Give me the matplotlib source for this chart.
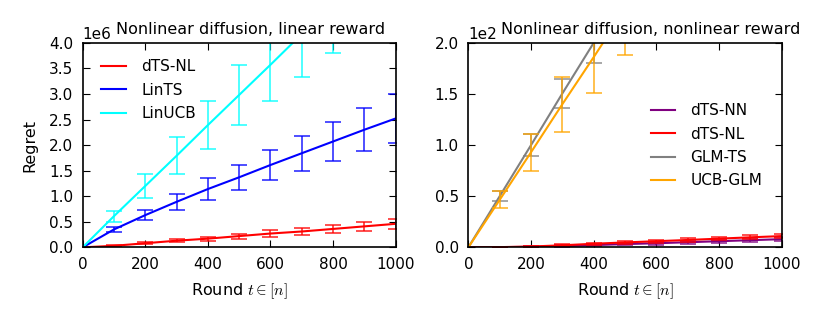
import numpy as np
import matplotlib
matplotlib.use("Agg")
import matplotlib.pyplot as plt

# rounds where the regret was recorded
rounds = [0, 100, 200, 300, 400, 500, 600, 700, 800, 900, 1000]

# left panel: nonlinear diffusion, linear reward (regret in units of 1e6)
left_labels = ["dTS-NL", "LinTS", "LinUCB"]
left_colors = ["red", "blue", "cyan"]
dts_nl_lin = [0, 0.03, 0.08, 0.13, 0.17, 0.22, 0.27, 0.31, 0.36, 0.41, 0.46]
dts_nl_lin_err = [0, 0.01, 0.02, 0.03, 0.04, 0.05, 0.06, 0.07, 0.08, 0.09, 0.10]
lints = [0, 0.35, 0.63, 0.89, 1.14, 1.37, 1.61, 1.84, 2.07, 2.30, 2.52]
lints_err = [0, 0.05, 0.10, 0.155, 0.21, 0.245, 0.29, 0.34, 0.38, 0.42, 0.47]
linucb = [0, 0.61, 1.20, 1.79, 2.39, 2.98, 3.57, 4.17, 4.76, 5.35, 5.95]
linucb_err = [0, 0.11, 0.23, 0.36, 0.47, 0.59, 0.71, 0.84, 0.95, 1.07, 1.19]

# right panel: nonlinear diffusion, nonlinear reward (regret in units of 1e2)
right_labels = ["dTS-NN", "dTS-NL", "GLM-TS", "UCB-GLM"]
right_colors = ["purple", "red", "gray", "orange"]
dts_nn = [0, 0.002, 0.005, 0.012, 0.022, 0.032, 0.04, 0.05, 0.06, 0.07, 0.08]
dts_nn_err = [0, 0.004, 0.006, 0.008, 0.01, 0.012, 0.014, 0.015, 0.016, 0.018, 0.02]
dts_nl = [0, 0.002, 0.008, 0.02, 0.035, 0.048, 0.06, 0.072, 0.085, 0.098, 0.11]
dts_nl_err = [0, 0.004, 0.006, 0.008, 0.01, 0.012, 0.014, 0.016, 0.018, 0.02, 0.022]
glm_ts = [0, 0.50, 1.00, 1.505, 2.00, 2.50, 3.00, 3.50, 4.00, 4.50, 5.00]
glm_ts_err = [0, 0.05, 0.105, 0.145, 0.20, 0.25, 0.30, 0.35, 0.40, 0.45, 0.50]
ucb_glm = [0, 0.465, 0.93, 1.40, 1.86, 2.33, 2.79, 3.26, 3.72, 4.19, 4.65]
ucb_glm_err = [0, 0.085, 0.18, 0.27, 0.355, 0.45, 0.53, 0.62, 0.71, 0.80, 0.88]

plt.rcParams["font.family"] = "DejaVu Sans"
plt.rcParams["font.size"] = 11
plt.rcParams["mathtext.fontset"] = "cm"
plt.rcParams["xtick.direction"] = "in"
plt.rcParams["ytick.direction"] = "in"
plt.rcParams["xtick.top"] = True
plt.rcParams["ytick.right"] = True
plt.rcParams["xtick.major.size"] = 5
plt.rcParams["ytick.major.size"] = 5
plt.rcParams["xtick.major.pad"] = 7
plt.rcParams["ytick.major.pad"] = 7
plt.rcParams["axes.linewidth"] = 1.2


def draw(ax, scale, series, errs, labels, colors):
  x = np.array(rounds)
  for y, e, lab, c in zip(series, errs, labels, colors):
    y = np.array(y) * scale
    e = np.array(e) * scale
    ax.plot(x, y, color=c, lw=1.5, label=lab)
    ax.errorbar(x[1:], y[1:], yerr=e[1:], fmt="none", ecolor=c,
                elinewidth=1.3, capsize=6, capthick=1.3, alpha=0.75)
  ax.set_xlim(0, 1000)
  ax.set_xticks(range(0, 1001, 200))
  ax.set_xlabel(r"Round $t \in [n]$", fontsize=11.5, labelpad=7)
  ax.ticklabel_format(axis="y", style="sci", scilimits=(0, 0))


fig = plt.figure(figsize=(8.3, 3.32), dpi=100)
ax1 = fig.add_axes([0.0996, 0.255, 0.377, 0.616])
ax2 = fig.add_axes([0.5643, 0.255, 0.3775, 0.616])

draw(ax1, 1e6, [dts_nl_lin, lints, linucb],
     [dts_nl_lin_err, lints_err, linucb_err], left_labels, left_colors)
ax1.set_ylim(0, 4e6)
ax1.set_yticks(np.arange(0, 4.01e6, 0.5e6))
ax1.set_ylabel("Regret", fontsize=11.5, labelpad=8)
ax1.set_title("Nonlinear diffusion, linear reward", x=0.535, pad=6,
              fontsize=11.5)
ax1.legend(loc="upper left", frameon=False, handlelength=1.6,
           handletextpad=1.0, labelspacing=0.55, fontsize=11,
           borderaxespad=0.0, bbox_to_anchor=(0.04, 0.95))

draw(ax2, 1e2, [dts_nn, dts_nl, glm_ts, ucb_glm],
     [dts_nn_err, dts_nl_err, glm_ts_err, ucb_glm_err],
     right_labels, right_colors)
ax2.set_ylim(0, 200)
ax2.set_yticks(np.arange(0, 201, 50))
ax2.set_title("Nonlinear diffusion, nonlinear reward", x=0.583, pad=6,
              fontsize=11.5)
ax2.legend(loc="upper left", frameon=False, handlelength=1.6,
           handletextpad=1.0, labelspacing=0.55, fontsize=11,
           borderaxespad=0.0, bbox_to_anchor=(0.563, 0.735))

fig.savefig("out.png", dpi=100, facecolor="white")
